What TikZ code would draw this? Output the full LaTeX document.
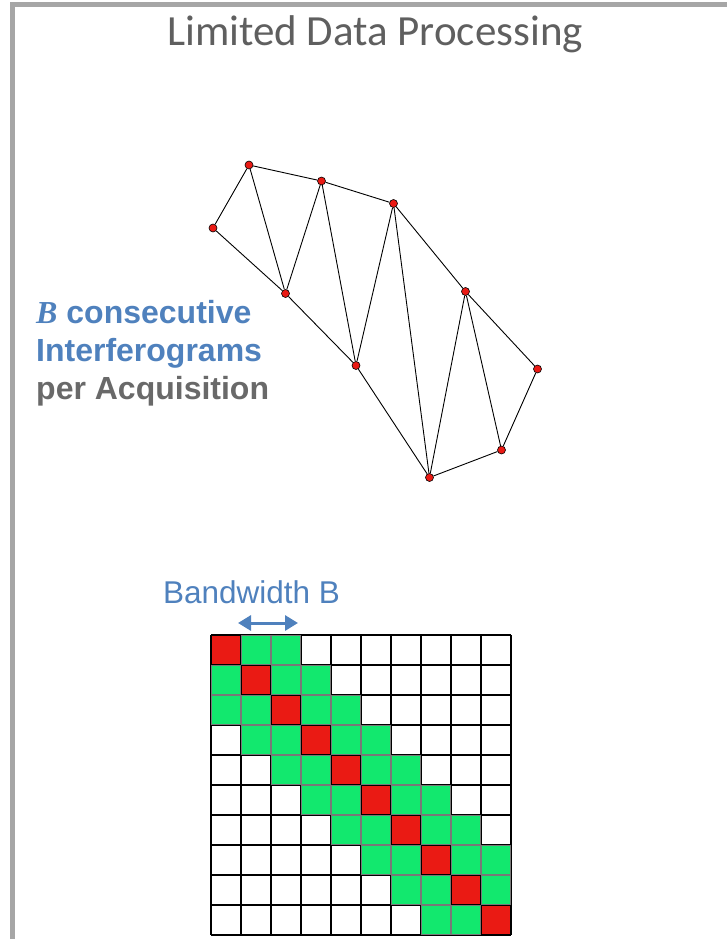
\documentclass[tikz,border=0pt]{standalone}
\usepackage{fontspec}
\setmainfont{Liberation Sans}
\newfontfamily\titlefont{Carlito}
\newfontfamily\serifB{Liberation Serif}
\usetikzlibrary{arrows.meta}
\definecolor{framegray}{RGB}{166,166,166}
\definecolor{titlegray}{RGB}{95,95,95}
\definecolor{txtblue}{RGB}{79,129,189}
\definecolor{txtgray}{RGB}{105,105,105}
\definecolor{cellred}{RGB}{234,26,20}
\definecolor{cellgreen}{RGB}{18,232,110}
\definecolor{cellborder}{RGB}{120,120,120}
\begin{document}
\begin{tikzpicture}[x=1pt,y=-1pt,
  pt/.style={circle,fill=cellred,draw=black,line width=0.6pt,inner sep=0pt,minimum size=8pt},
  edge/.style={draw=black,line width=0.9pt},
  lbl/.style={anchor=base west,inner sep=0pt,font=\fontsize{32}{36}\selectfont\bfseries},
  gridline/.style={draw=black,line width=1.3pt},
  bandarrow/.style={draw=txtblue,line width=3pt,{Triangle[width=15pt,length=13pt]}-{Triangle[width=15pt,length=13pt]}}
]
\useasboundingbox (0,0) rectangle (726,939);
% frame
\draw[framegray,line width=5pt] (12.5,945) -- (12.5,4.5) -- (732,4.5);
% title
\node[font=\titlefont\fontsize{43}{50}\selectfont,text=titlegray,anchor=base] (title) at (375,46) {Limited Data Processing};
% left text
\node[lbl,text=txtblue] (l1) at (36,323) {{\serifB\bfseries\itshape B} consecutive};
\node[lbl,text=txtblue] (l2) at (36,361) {Interferograms};
\node[lbl,text=txtgray] (l3) at (36,399) {per Acquisition};
% graph
\node[pt] (n0) at (213,228) {};
\node[pt] (n1) at (249,165) {};
\node[pt] (n2) at (321.5,181) {};
\node[pt] (n3) at (393.5,203.5) {};
\node[pt] (n4) at (285.5,293.5) {};
\node[pt] (n5) at (356,365.5) {};
\node[pt] (n6) at (465.5,291.5) {};
\node[pt] (n7) at (537.5,369) {};
\node[pt] (n8) at (429.5,477.5) {};
\node[pt] (n9) at (501.5,450) {};
\foreach \a/\b in {n0/n1,n0/n4,n1/n4,n1/n2,n2/n4,n2/n5,n2/n3,n4/n5,n3/n5,n3/n8,n3/n6,n5/n8,n6/n8,n6/n9,n6/n7,n7/n9,n8/n9}
  \draw[edge] (\a) -- (\b);
% bandwidth label and arrow
\node[anchor=base,inner sep=0pt,text=txtblue,font=\fontsize{31.5}{36}\selectfont] (bw) at (251.5,603) {Bandwidth B};
\coordinate (aL) at (238,623);
\coordinate (aR) at (298,623);
\draw[bandarrow] (aL) -- (aR);
% matrix cells
\foreach \r in {0,...,9}{
  \foreach \c in {0,...,9}{
    \pgfmathtruncatemacro\d{abs(\r-\c)}
    \pgfmathsetmacro\xx{211+30*\c}
    \pgfmathsetmacro\yy{635+30*\r}
    \ifnum\d=0
      \fill[cellred] (\xx,\yy) rectangle ++(30,30);
    \else\ifnum\d<3
      \fill[cellgreen] (\xx,\yy) rectangle ++(30,30);
    \fi\fi
  }
}
\foreach \i in {0,...,10}{
  \draw[gridline] (211+30*\i,635) -- (211+30*\i,935);
  \draw[gridline] (211,635+30*\i) -- (511,635+30*\i);
}
\foreach \r in {0,...,9}{
  \foreach \c in {0,...,9}{
    \pgfmathtruncatemacro\d{abs(\r-\c)}
    \pgfmathsetmacro\xx{211+30*\c}
    \pgfmathsetmacro\yy{635+30*\r}
    \ifnum\d>0\ifnum\d<3
      \draw[cellborder,line width=1.3pt] (\xx+0.6,\yy+0.6) rectangle ++(28.8,28.8);
    \fi\fi
  }
}
\end{tikzpicture}
\end{document}
